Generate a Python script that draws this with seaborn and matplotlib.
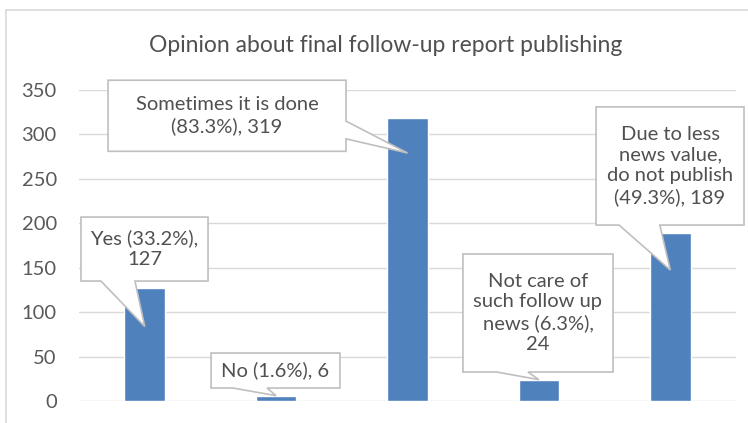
import matplotlib
matplotlib.use("Agg")
import matplotlib.pyplot as plt
from matplotlib.patches import Polygon
from matplotlib.lines import Line2D
import seaborn as sns
import pandas as pd

# Survey responses
categories = ["Yes", "No", "Sometimes it is done", "Not care of such follow up news",
              "Due to less news value, do not publish"]
counts = [127, 6, 319, 24, 189]
percents = [33.2, 1.6, 83.3, 6.3, 49.3]
callout_texts = [
    "Yes (33.2%),\n127",
    "No (1.6%), 6",
    "Sometimes it is done\n(83.3%), 319",
    "Not care of\nsuch follow up\nnews (6.3%),\n24",
    "Due to less\nnews value,\ndo not publish\n(49.3%), 189",
]
yticks = [0, 50, 100, 150, 200, 250, 300, 350]
title = "Opinion about final follow-up report publishing"

BAR = "#4F81BD"
GRID = "#D9D9D9"
TXT = "#595959"
LBL = "#505050"
EDGE = "#BFBFBF"

sns.set_theme(style="white")
plt.rcParams["font.family"] = ["Lato", "DejaVu Sans"]

fig = plt.figure(figsize=(7.48, 4.23), dpi=100)
W, H = 748, 423
ax = fig.add_axes([79 / W, 1 - 401 / H, (736 - 79) / W, (401 - 90) / H])

df = pd.DataFrame({"category": categories, "count": counts})
sns.barplot(data=df, x="category", y="count", color=BAR, saturation=1,
            width=0.31, ax=ax, zorder=2)

ax.set_ylim(0, 350)
ax.set_xlim(-0.5, len(categories) - 0.5)
ax.set_yticks(yticks)
ax.set_yticklabels([str(t) for t in yticks], color=TXT, fontsize=14.5)
ax.set_xticks([])
ax.set_xlabel("")
ax.set_ylabel("")
ax.tick_params(axis="y", length=0, pad=16)
ax.yaxis.grid(True, color=GRID, linewidth=1)
ax.set_axisbelow(True)
for s in ax.spines.values():
    s.set_visible(False)

fig.text(386 / W, 1 - 45 / H, title, ha="center", va="center",
         fontsize=16.5, color=LBL)

# chart-area border (left and top edges)
fig.add_artist(Line2D([6 / W, 6 / W], [0, 1 - 10 / H], transform=fig.transFigure,
                      color=GRID, lw=1.2))
fig.add_artist(Line2D([6 / W, 1], [1 - 10 / H, 1 - 10 / H], transform=fig.transFigure,
                      color=GRID, lw=1.2))

# callout layout: box (x0, x1, y0, y1), pointer side, pointer base, tip height fraction
layouts = [
    ((-0.485, 0.482, 135, 207), "bottom", (-0.333, -0.074), 0.66),
    ((0.505, 1.486, 14.6, 54), "bottom", (0.672, 0.931), 1.0),
    ((-0.279, 1.532, 281, 361), "right", (295, 315), 0.875),
    ((2.422, 3.564, 32.6, 165.4), "bottom", (2.68, 2.917), 1.0),
    ((3.435, 4.561, 198, 331), "bottom", (3.61, 3.92), 0.78),
]

for i, (text, (box, side, base, frac)) in enumerate(zip(callout_texts, layouts)):
    x0, x1, y0, y1 = box
    tip = (i, counts[i] * frac)
    if side == "bottom":
        verts = [(x0, y0), (base[0], y0), tip, (base[1], y0), (x1, y0), (x1, y1), (x0, y1)]
    else:
        verts = [(x0, y0), (x1, y0), (x1, base[0]), tip, (x1, base[1]), (x1, y1), (x0, y1)]
    poly = Polygon(verts, closed=True, facecolor="white", edgecolor=EDGE,
                   linewidth=1.2, zorder=4, clip_on=False)
    ax.add_patch(poly)
    ax.text((x0 + x1) / 2, (y0 + y1) / 2, text, ha="center", va="center",
            fontsize=14.5, color=LBL, linespacing=1.28, zorder=5, clip_on=False)

fig.savefig("out.png", dpi=100, facecolor="white")
